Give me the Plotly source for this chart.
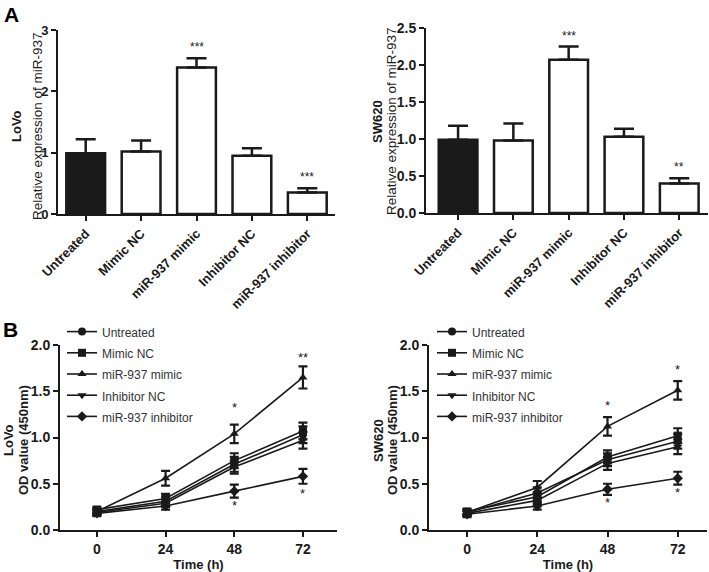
import plotly.graph_objects as go

# expression data (panel A)
categories = ["Untreated", "Mimic NC", "miR-937 mimic", "Inhibitor NC", "miR-937 inhibitor"]
lovo_expr = [0.99, 1.02, 2.39, 0.95, 0.35]
lovo_err = [0.23, 0.18, 0.15, 0.12, 0.07]
sw620_expr = [0.99, 0.98, 2.07, 1.03, 0.40]
sw620_err = [0.19, 0.23, 0.18, 0.11, 0.07]
lovo_stars = ["", "", "***", "", "***"]
sw620_stars = ["", "", "***", "", "**"]

# CCK-8 growth data (panel B)
hours = [0, 24, 48, 72]
groups = ["Untreated", "Mimic NC", "miR-937 mimic", "Inhibitor NC", "miR-937 inhibitor"]
symbols = ["circle", "square", "triangle-up", "triangle-down", "diamond"]

lovo_od = {
    "Untreated": [0.20, 0.31, 0.71, 1.03],
    "Mimic NC": [0.22, 0.34, 0.75, 1.07],
    "miR-937 mimic": [0.20, 0.56, 1.04, 1.65],
    "Inhibitor NC": [0.19, 0.29, 0.68, 0.97],
    "miR-937 inhibitor": [0.18, 0.26, 0.42, 0.58],
}
lovo_od_err = {
    "Untreated": [0.03, 0.05, 0.08, 0.09],
    "Mimic NC": [0.03, 0.05, 0.08, 0.09],
    "miR-937 mimic": [0.03, 0.08, 0.10, 0.12],
    "Inhibitor NC": [0.03, 0.04, 0.07, 0.09],
    "miR-937 inhibitor": [0.03, 0.04, 0.07, 0.08],
}
sw620_od = {
    "Untreated": [0.19, 0.40, 0.76, 0.96],
    "Mimic NC": [0.20, 0.36, 0.79, 1.02],
    "miR-937 mimic": [0.19, 0.46, 1.12, 1.51],
    "Inhibitor NC": [0.18, 0.32, 0.72, 0.90],
    "miR-937 inhibitor": [0.17, 0.26, 0.44, 0.56],
}
sw620_od_err = {
    "Untreated": [0.03, 0.06, 0.07, 0.08],
    "Mimic NC": [0.03, 0.05, 0.07, 0.08],
    "miR-937 mimic": [0.03, 0.07, 0.10, 0.10],
    "Inhibitor NC": [0.03, 0.04, 0.07, 0.08],
    "miR-937 inhibitor": [0.03, 0.04, 0.06, 0.07],
}
# significance marks: (hour, y position, text)
lovo_marks = [(48, 1.32, "*"), (48, 0.27, "*"), (72, 1.87, "**"), (72, 0.40, "*")]
sw620_marks = [(48, 1.35, "*"), (48, 0.30, "*"), (72, 1.73, "*"), (72, 0.41, "*")]

W, H = 709, 572
FONT = "Liberation Sans, Arial, sans-serif"
INK = "#1a1a1a"


def px_x(p):
    return p / W


def px_y(p):
    return 1 - p / H


fig = go.Figure()

bar_colors = [INK, "white", "white", "white", "white"]
for xa, ya, vals, errs in [("x", "y", lovo_expr, lovo_err), ("x2", "y2", sw620_expr, sw620_err)]:
    fig.add_trace(go.Bar(
        x=categories, y=vals, xaxis=xa, yaxis=ya, width=0.7,
        marker=dict(color=bar_colors, line=dict(color=INK, width=2.5)),
        error_y=dict(type="data", array=errs, arrayminus=[0] * 5, symmetric=False,
                     color=INK, thickness=2.5, width=10),
        showlegend=False,
    ))

for xa, ya, od, od_err, leg in [("x3", "y3", lovo_od, lovo_od_err, "legend"),
                                ("x4", "y4", sw620_od, sw620_od_err, "legend2")]:
    for g, sym in zip(groups, symbols):
        fig.add_trace(go.Scatter(
            x=hours, y=od[g], xaxis=xa, yaxis=ya, mode="lines+markers",
            name='<span style="font-size:12px">' + g + '</span>',
            line=dict(color=INK, width=1.6),
            marker=dict(symbol=sym, size=8, color=INK),
            error_y=dict(type="data", array=od_err[g], color=INK, thickness=2.2, width=4.5),
            legend=leg,
        ))

axis_common = dict(showline=True, linecolor=INK, linewidth=2, ticks="outside",
                   tickwidth=2, ticklen=5, tickcolor=INK, showgrid=False, zeroline=False,
                   automargin=False,
                   tickfont=dict(family=FONT, size=14, color=INK, weight="bold"))
cat_font = dict(family=FONT, size=13, color=INK, weight="bold")
time_title = dict(text="Time (h)", font=dict(family=FONT, size=13, color=INK, weight="bold"),
                  standoff=6)

fig.update_layout(
    width=W, height=H, margin=dict(l=0, r=0, t=0, b=0, autoexpand=False),
    paper_bgcolor="white", plot_bgcolor="white",
    font=dict(family=FONT, color=INK),
    xaxis=dict(axis_common, domain=[px_x(58), px_x(335)], anchor="y", range=[-0.5, 4.5],
               tickangle=-45, tickfont=cat_font),
    yaxis=dict(axis_common, domain=[px_y(214), px_y(30)], anchor="x", range=[0, 3],
               tickvals=[0, 1, 2, 3], tickfont=cat_font),
    xaxis2=dict(axis_common, domain=[px_x(426), px_x(708)], anchor="y2", range=[-0.58, 4.52],
                tickangle=-45, tickfont=cat_font),
    yaxis2=dict(axis_common, domain=[px_y(213), px_y(28)], anchor="x2", range=[0, 2.5],
                tickvals=[0, 0.5, 1, 1.5, 2, 2.5], tickformat=".1f"),
    xaxis3=dict(axis_common, domain=[px_x(60), px_x(337)], anchor="y3", range=[-12.9, 83.9],
                tickvals=hours, title=time_title),
    yaxis3=dict(axis_common, domain=[px_y(530), px_y(345)], anchor="x3", range=[0, 2],
                tickvals=[0, 0.5, 1, 1.5, 2], tickformat=".1f"),
    xaxis4=dict(axis_common, domain=[px_x(429), px_x(707)], anchor="y4", range=[-13, 82],
                tickvals=hours, title=time_title),
    yaxis4=dict(axis_common, domain=[px_y(530), px_y(345)], anchor="x4", range=[0, 2],
                tickvals=[0, 0.5, 1, 1.5, 2], tickformat=".1f"),
    legend=dict(x=px_x(62), y=px_y(316), xanchor="left", yanchor="top",
                bgcolor="rgba(0,0,0,0)", font=dict(family=FONT, size=14, color="#333"),
                itemwidth=30, tracegroupgap=0),
    legend2=dict(x=px_x(432), y=px_y(316), xanchor="left", yanchor="top",
                 bgcolor="rgba(0,0,0,0)", font=dict(family=FONT, size=14, color="#333"),
                 itemwidth=30, tracegroupgap=0),
)

ann = []
# significance stars above bars
for xa, ya, vals, errs, stars in [("x", "y", lovo_expr, lovo_err, lovo_stars),
                                  ("x2", "y2", sw620_expr, sw620_err, sw620_stars)]:
    for c, v, e, s in zip(categories, vals, errs, stars):
        if s:
            ann.append(dict(x=c, y=v + e, xref=xa, yref=ya, text=s, showarrow=False,
                            yanchor="bottom", yshift=2, font=dict(family=FONT, size=12, color=INK)))
for xa, ya, marks in [("x3", "y3", lovo_marks), ("x4", "y4", sw620_marks)]:
    for h, yv, s in marks:
        ann.append(dict(x=h, y=yv, xref=xa, yref=ya, text=s, showarrow=False,
                        xanchor="center", yanchor="middle",
                        font=dict(family=FONT, size=13, color=INK)))

# y-axis titles, two lines each
titles = [
    (16, 37, 126, "LoVo", "Relative expression of miR-937"),
    (377, 391, 121, "SW620", "Relative expression of miR-937"),
    (8, 23, 440, "LoVo", "OD value (450nm)"),
    (378, 392, 440, "SW620", "OD value (450nm)"),
]
for x1, x2, yc, cell, txt in titles:
    ann.append(dict(x=px_x(x1), y=px_y(yc), xref="paper", yref="paper", text="<b>" + cell + "</b>",
                    textangle=-90, showarrow=False, xanchor="center", yanchor="middle",
                    font=dict(family=FONT, size=13, color=INK)))
    bold = txt.startswith("OD")
    ann.append(dict(x=px_x(x2), y=px_y(yc), xref="paper", yref="paper",
                    text=("<b>" + txt + "</b>") if bold else txt,
                    textangle=-90, showarrow=False, xanchor="center", yanchor="middle",
                    font=dict(family=FONT, size=13 if bold else 13.5, color=INK)))

# panel letters
ann.append(dict(x=px_x(11), y=px_y(14), xref="paper", yref="paper", text="<b>A</b>",
                showarrow=False, xanchor="center", yanchor="middle",
                font=dict(family=FONT, size=21, color="black")))
ann.append(dict(x=px_x(10), y=px_y(329), xref="paper", yref="paper", text="<b>B</b>",
                showarrow=False, xanchor="center", yanchor="middle",
                font=dict(family=FONT, size=21, color="black")))

fig.update_layout(annotations=ann)

# drop the default page margin so the figure sits at the window's corner
fig.write_html("out.html", config={"displayModeBar": False},
               post_script="document.body.style.margin='0';")
